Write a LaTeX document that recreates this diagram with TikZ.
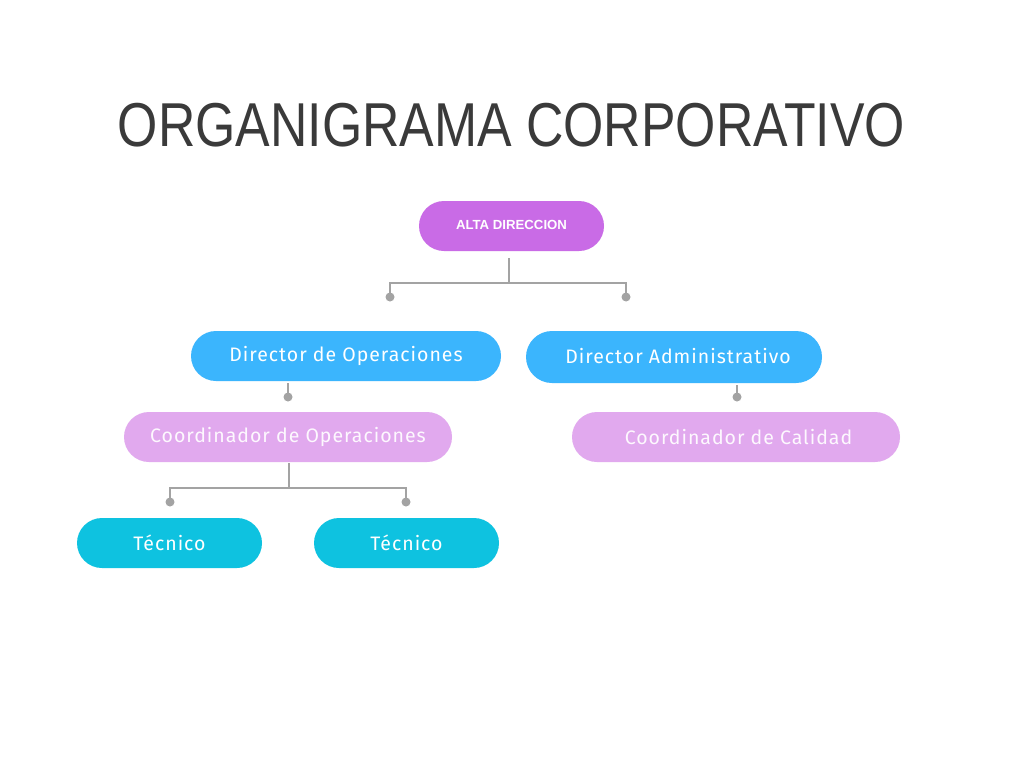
\documentclass[tikz,border=0pt]{standalone}
\usepackage{fontspec}
\setmainfont{Liberation Sans}
\newfontfamily\boxfont[LetterSpace=5]{Fira Sans}
\usetikzlibrary{calc}
\definecolor{titlegray}{HTML}{3A3A3A}
\definecolor{altac}{HTML}{C96BE6}
\definecolor{dirc}{HTML}{3BB5FD}
\definecolor{coordc}{HTML}{E1A9EE}
\definecolor{tecc}{HTML}{0EC2E0}
\definecolor{linec}{HTML}{A3A3A3}
\tikzset{
  pill/.style={rounded corners=25pt, minimum height=50pt, inner sep=0pt, text=white, font=\boxfont\fontsize{19.5}{22}\selectfont},
  conn/.style={draw=linec, line width=2pt},
  dotc/.style={fill=linec, draw=none}
}
\begin{document}
\begin{tikzpicture}[x=1pt,y=-1pt]
\useasboundingbox[fill=white] (0,0) rectangle (1024,768);
\node[text=titlegray, font=\fontsize{62}{66}\selectfont, inner sep=0pt] (title) at (511.5,125) {\scalebox{0.835}[1]{ORGANIGRAMA CORPORATIVO}};

\node[pill, fill=altac, minimum width=185pt, font=\bfseries\fontsize{13.2}{15}\selectfont] (alta) at (511.5,226) {\raisebox{2pt}{ALTA DIRECCION}};
\node[pill, fill=dirc, minimum width=310pt] (dop) at (346,356) {\raisebox{2pt}{Director de Operaciones}};
\node[pill, fill=dirc, minimum width=296pt, minimum height=52pt, rounded corners=26pt] (dad) at (674,357) {\hspace{8pt}\raisebox{3pt}{Director Administrativo}};
\node[pill, fill=coordc, minimum width=328pt, text=white!92!coordc] (cop) at (288,437) {Coordinador de Operaciones};
\node[pill, fill=coordc, minimum width=328pt, text=white!92!coordc] (cca) at (736,437) {\hspace{5pt}Coordinador de Calidad};
\node[pill, fill=tecc, minimum width=185pt] (t1) at (169.5,543) {\raisebox{1pt}{Técnico}\hspace{6pt}};
\node[pill, fill=tecc, minimum width=185pt] (t2) at (406.5,543) {\raisebox{1pt}{Técnico}};

% connectors
\coordinate (d1) at (390,297);
\coordinate (d2) at (626,297);
\coordinate (d3) at (288,397);
\coordinate (d4) at (737,397);
\coordinate (d5) at (170,502);
\coordinate (d6) at (406,502);

\draw[conn] ($(alta.south)+(-2.5,7)$) -- ++(0,25) coordinate (j1);
\draw[conn] (d1) |- (j1) -| (d2);
\draw[conn] (dop.south -| d3) ++(0,2) -- (d3);
\draw[conn] (dad.south -| d4) ++(0,2) -- (d4);
\draw[conn] ($(cop.south)+(1,1)$) -- ++(0,25) coordinate (j2);
\draw[conn] (d5) |- (j2) -| (d6);
\foreach \d in {d1,d2,d3,d4,d5,d6} \fill[dotc] (\d) circle (4.5pt);
\end{tikzpicture}
\end{document}
